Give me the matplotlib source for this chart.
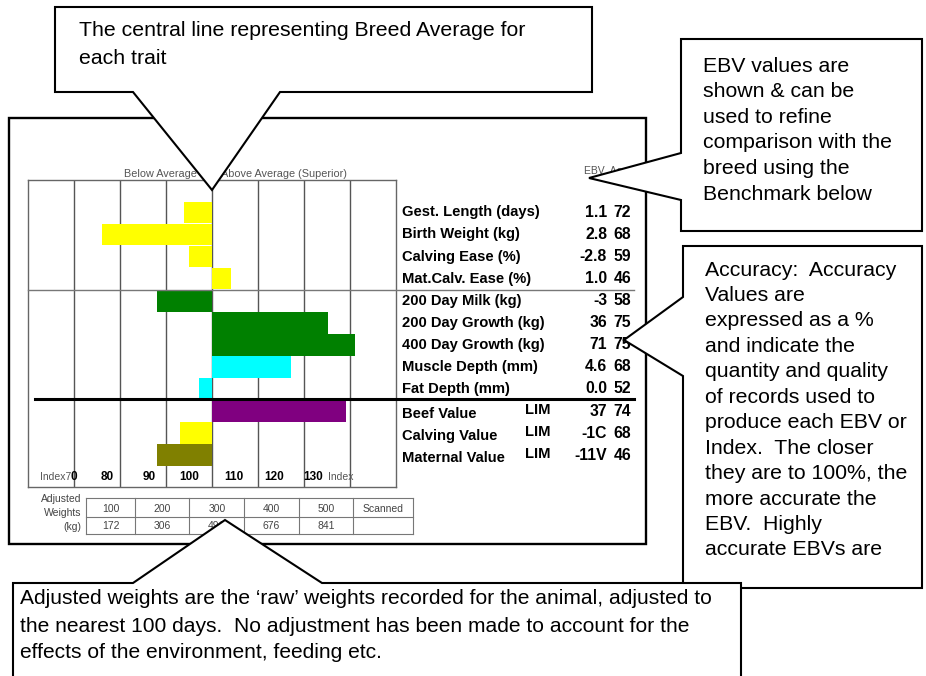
import matplotlib.pyplot as plt
from matplotlib.patches import Polygon, Rectangle
from matplotlib.transforms import blended_transform_factory

plt.rcParams['font.family'] = ['Liberation Sans', 'DejaVu Sans']

# Data
traits = ['Gest. Length (days)', 'Birth Weight (kg)', 'Calving Ease (%)', 'Mat.Calv. Ease (%)',
          '200 Day Milk (kg)', '200 Day Growth (kg)', '400 Day Growth (kg)', 'Muscle Depth (mm)',
          'Fat Depth (mm)', 'Beef Value', 'Calving Value', 'Maternal Value']
index_vals = [94.0, 76.1, 95.1, 104.1, 88.0, 125.2, 131.1, 117.1, 97.1, 129.1, 93.0, 88.0]
ebv = ['1.1', '2.8', '-2.8', '1.0', '-3', '36', '71', '4.6', '0.0', '37', '-1C', '-11V']
acc = ['72', '68', '59', '46', '58', '75', '75', '68', '52', '74', '68', '46']
breed_tag = ['', '', '', '', '', '', '', '', '', 'LIM', 'LIM', 'LIM']
bar_colors = ['#ffff00'] * 4 + ['#008000'] * 3 + ['#00ffff'] * 2 + ['#800080', '#ffff00', '#808000']
index_labels = ['80', '90', '100', '110', '120', '130']
weight_days = ['100', '200', '300', '400', '500', 'Scanned']
weight_kg = ['172', '306', '491', '676', '841', '']

W, H = 926, 676
fig = plt.figure(figsize=(W / 100, H / 100), dpi=100)

# background layer in pixel coordinates (frame, table, small labels)
bg = fig.add_axes([0, 0, 1, 1], zorder=0)
bg.set_xlim(0, W)
bg.set_ylim(H, 0)
bg.axis('off')

# chart layer: x in index units, y in trait rows
ax = fig.add_axes([28 / W, (H - 486.7) / H, 368 / W, 306.7 / H], zorder=1)
ax.set_xlim(60, 140)
ax.set_ylim(12.43, -1.47)
ax.set_xticks([])
ax.set_yticks([])
for s in ax.spines.values():
    s.set_color('#666666')
    s.set_linewidth(1)
for x in range(70, 140, 10):
    ax.axvline(x, color='#555555', lw=1, zorder=1)

rows = list(range(len(traits)))
ax.barh(rows, [v - 100 for v in index_vals], left=100, height=0.98,
        color=bar_colors, zorder=3)

# index scale labels inside the grid
gray = '#555555'
ax.text(69.3, 12.0, 'Index7', ha='right', va='center', fontsize=7.5, color=gray)
ax.text(69.3, 12.0, '0', ha='left', va='center', fontsize=8.5, fontweight='bold')
label_pos = [77.2, 86.4, 95.1, 104.8, 113.6, 122.0]
for p, lab in zip(label_pos, index_labels):
    ax.text(p, 12.0, lab, ha='center', va='center', fontsize=8.5, fontweight='bold')
ax.text(125.2, 12.0, 'Index', ha='left', va='center', fontsize=7.5, color=gray)

# trait names, EBVs and accuracies to the right of the grid
tr = blended_transform_factory(bg.transData, ax.transData)
for i in rows:
    dy = 0.15 if breed_tag[i] else 0
    ax.text(402, i + dy, traits[i], transform=tr, ha='left', va='center',
            fontsize=10.6, fontweight='bold', clip_on=False)
    if breed_tag[i]:
        ax.text(538, i - 0.05, breed_tag[i], transform=tr, ha='center', va='center',
                fontsize=10.6, fontweight='bold', clip_on=False)
    ax.text(607, i, ebv[i], transform=tr, ha='right', va='center',
            fontsize=11.3, fontweight='bold', clip_on=False)
    ax.text(631, i, acc[i], transform=tr, ha='right', va='center',
            fontsize=11.3, fontweight='bold', clip_on=False)
ax.plot([28, 634], [3.5, 3.5], transform=tr, color='#777777', lw=1, clip_on=False, zorder=4)
ax.plot([35, 634], [8.45, 8.45], transform=tr, color='black', lw=2.2, clip_on=False, zorder=4)

bg.text(124, 174, 'Below Average', fontsize=7.8, color=gray, va='center')
bg.text(221, 174, 'Above Average (Superior)', fontsize=7.8, color=gray, va='center')
bg.text(584, 171, 'EBV  Acc', fontsize=7.5, color=gray, va='center')

# outer frame
bg.add_patch(Rectangle((9, 118), 637, 426, fill=False, ec='black', lw=1.7))

# adjusted weights table
col_edges = [85.7, 135.3, 189.3, 244.3, 298.7, 353.3, 413.3]
row_edges = [498.3, 516.7, 534.0]
for x in col_edges:
    bg.plot([x, x], [row_edges[0], row_edges[-1]], color='#777777', lw=0.8)
for y in row_edges:
    bg.plot([col_edges[0], col_edges[-1]], [y, y], color='#777777', lw=0.8)
for j in range(len(weight_days)):
    cx = (col_edges[j] + col_edges[j + 1]) / 2
    bg.text(cx, 508.5, weight_days[j], ha='center', va='center', fontsize=7.5, color='#444444')
    bg.text(cx, 526, weight_kg[j], ha='center', va='center', fontsize=7.5, color='#444444')
for y, t in zip([499, 513.5, 527.5], ['Adjusted', 'Weights', '(kg)']):
    bg.text(81, y, t, ha='right', va='center', fontsize=7.5, color='#444444')

# callouts on top
top = fig.add_axes([0, 0, 1, 1], zorder=2)
top.set_xlim(0, W)
top.set_ylim(H, 0)
top.axis('off')
top.patch.set_alpha(0)

callouts = [
    [(55, 7), (592, 7), (592, 92), (280, 92), (212, 190), (133, 92), (55, 92)],
    [(681, 39), (922, 39), (922, 231), (681, 231), (681, 200), (589, 178), (681, 153)],
    [(683, 246), (922, 246), (922, 588), (683, 588), (683, 376), (624, 340), (683, 297)],
    [(13, 583), (133, 583), (225, 520), (322, 583), (741, 583), (741, 700), (13, 700)],
]
for pts in callouts:
    top.add_patch(Polygon(pts, closed=True, fc='white', ec='black', lw=1.5, joinstyle='miter'))

fs = 15.3
for y, t in zip([30, 58], ['The central line representing Breed Average for', 'each trait']):
    top.text(79, y, t, fontsize=fs, va='center')
ebv_lines = ['EBV values are', 'shown & can be', 'used to refine', 'comparison with the',
             'breed using the', 'Benchmark below']
for k, t in enumerate(ebv_lines):
    top.text(703, 66 + 25.6 * k, t, fontsize=fs, va='center')
acc_lines = ['Accuracy:  Accuracy', 'Values are', 'expressed as a %', 'and indicate the',
             'quantity and quality', 'of records used to', 'produce each EBV or',
             'Index.  The closer', 'they are to 100%, the', 'more accurate the',
             'EBV.  Highly', 'accurate EBVs are']
for k, t in enumerate(acc_lines):
    top.text(705, 270 + 25.45 * k, t, fontsize=fs, va='center')
adj_lines = ['Adjusted weights are the \u2018raw\u2019 weights recorded for the animal, adjusted to',
             'the nearest 100 days.  No adjustment has been made to account for the',
             'effects of the environment, feeding etc.']
for k, t in enumerate(adj_lines):
    top.text(20, 599 + 27 * k, t, fontsize=15.1, va='center')

fig.savefig('out.png', dpi=100, facecolor='white')
